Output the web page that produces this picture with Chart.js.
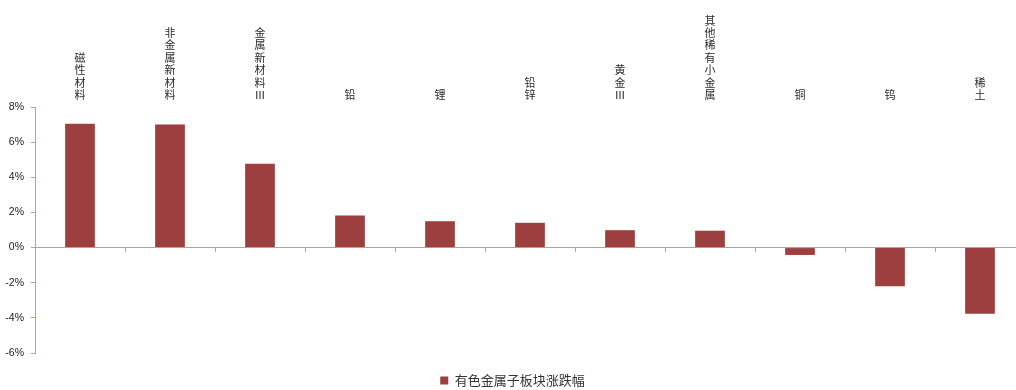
<!DOCTYPE html>
<html>
<head>
<meta charset="utf-8">
<script src="https://cdn.jsdelivr.net/npm/chart.js@4/dist/chart.umd.min.js"></script>
<style>
  html, body { margin: 0; padding: 0; background: #fff; overflow: hidden; }
  #wrap { position: relative; width: 1025px; height: 390px; }
</style>
</head>
<body>
<div id="wrap"><canvas id="myChart"></canvas></div>
<script>
'use strict';

// sub-sector names (drawn as stacked vertical text at the top)
let categories = ['磁性材料', '非金属新材料', '金属新材料Ⅲ', '铅', '锂', '铅锌', '黄金Ⅲ', '其他稀有小金属', '铜', '钨', '稀土'];
// change, %
let changes = [7.05, 7.01, 4.77, 1.82, 1.50, 1.41, 0.99, 0.96, -0.42, -2.20, -3.76];
let seriesName = '有色金属子板块涨跌幅';
let yTicks = [-6, -4, -2, 0, 2, 4, 6, 8];

let barColor = '#9c3f3e';
let axisColor = '#b5a877';

const data = {
  labels: categories,
  datasets: [
    {
      label: seriesName,
      data: changes,
      backgroundColor: barColor,
      borderWidth: 0,
      barPercentage: 0.33,
      categoryPercentage: 1,
      xAxisID: 'x'
    }
  ]
};

const config = {
  type: 'bar',
  data: data,
  options: {
    responsive: true,
    maintainAspectRatio: false,
    animation: false,
    layout: {
      padding: { top: 0, left: 0, right: 0, bottom: -7 }
    },
    plugins: {
      tooltip: { enabled: false },
      legend: {
        position: 'bottom',
        labels: {
          boxWidth: 8,
          boxHeight: 8,
          padding: 21,
          color: '#333',
          font: { family: '"Noto Sans CJK SC"', size: 13 }
        }
      }
    },
    scales: {
      x: {
        type: 'category',
        position: 'top',
        grid: { display: false, drawTicks: false },
        border: { display: false },
        ticks: {
          autoSkip: false,
          maxRotation: 0,
          minRotation: 0,
          padding: 6,
          color: '#2a2a2a',
          font: { family: '"Noto Sans CJK SC"', size: 11, lineHeight: '12.4px' },
          callback: function (value) {
            return this.getLabelForValue(value).split('');
          }
        },
        afterFit: function (scale) {
          scale.height = 107;
        }
      },
      xBase: {
        type: 'category',
        position: { y: 0 },
        grid: {
          offset: true,
          drawOnChartArea: false,
          drawTicks: true,
          tickLength: 4,
          color: axisColor
        },
        border: { color: axisColor, width: 1 },
        ticks: { display: false },
        afterFit: function (scale) {
          scale.height = 0;
        }
      },
      y: {
        min: -6,
        max: 8,
        grid: {
          drawOnChartArea: false,
          tickLength: 4,
          color: axisColor
        },
        border: { color: axisColor, width: 1 },
        afterBuildTicks: function (scale) {
          scale.ticks = yTicks.map(v => ({ value: v }));
        },
        ticks: {
          padding: 7,
          color: '#222',
          font: { family: '"Liberation Sans", Arial', size: 10.5 },
          callback: function (value) {
            return value + '%';
          }
        },
        afterFit: function (scale) {
          scale.width = 35;
        }
      }
    }
  }
};

const myChart = new Chart(
  document.getElementById('myChart'),
  config
);
</script>
</body>
</html>
